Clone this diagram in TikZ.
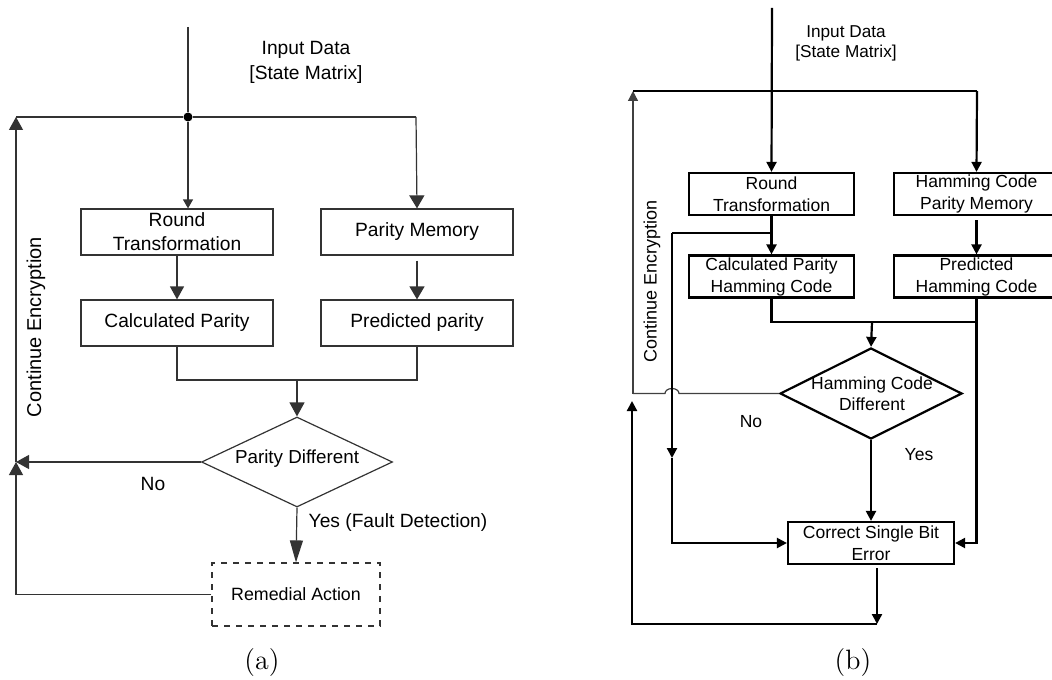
\documentclass[tikz,border=0pt]{standalone}
\usepackage{fontspec}
\newfontfamily\arial{Liberation Sans}
\usetikzlibrary{arrows.meta,shapes.geometric,calc}
\begin{document}
\begin{tikzpicture}[x=0.5pt,y=-0.5pt,
  la/.style={draw=black!80, line width=0.6pt},
  lat/.style={la, -{Triangle[length=6.5pt,width=7pt]}},
  lbox/.style={la, rectangle, inner sep=0pt, minimum width=96pt, minimum height=23pt, align=center, font=\arial\fontsize{9.6}{12}\selectfont},
  ltext/.style={font=\arial\fontsize{9.6}{12.5}\selectfont, align=center, inner sep=0pt},
  rb/.style={draw=black, line width=1.1pt},
  rbt/.style={rb, -{Triangle[length=5pt,width=5pt]}},
  rthin/.style={draw=black!75, line width=0.6pt},
  rbox/.style={rb, rectangle, inner sep=0pt, minimum width=82.5pt, minimum height=21pt, align=center, font=\arial\fontsize{8.75}{11}\selectfont},
  rtext/.style={font=\arial\fontsize{8.75}{10}\selectfont, align=center, inner sep=0pt},
  captxt/.style={font=\fontsize{14}{16}\selectfont, inner sep=0pt}
]
\useasboundingbox (0,0) rectangle (1052,679);

% ================= (a) =================
\node[lbox] (rt) at (177,232) {Round\\Transformation};
\node[lbox] (pm) at (417,232) {Parity Memory};
\node[lbox] (cp) at (177,323) {Calculated Parity};
\node[lbox] (pp) at (417,323) {Predicted parity};
\node[diamond, la, minimum width=95.5pt, minimum height=45pt, inner sep=0pt] (pd) at (297,462) {};
\node[ltext, font=\arial\fontsize{9.4}{12}\selectfont] (pdt) at (297,459) {Parity Different};
\node[la, dashed, rectangle, inner sep=0pt, minimum width=84pt, minimum height=31.5pt, font=\arial\fontsize{8.9}{11}\selectfont] (ra) at (296,594.5) {Remedial Action};

\node[circle, fill=black, inner sep=0pt, minimum size=4.5pt] (dot) at (188,117) {};
\coordinate (in1) at (188,27);
\coordinate (tr) at (416,117);
\coordinate (tl) at (16,117);
\coordinate (ml) at (16,462);
\coordinate (mj) at (297,380);

\node[ltext] (inA) at (306,62) {Input Data\\{}[State Matrix]};
\node[ltext, rotate=90, font=\arial\fontsize{10}{12}\selectfont] (ceA) at (36,327) {Continue Encryption};
\node[ltext] (noA) at (153,484) {No};
\node[ltext] (yesA) at (398,523) {Yes (Fault Detection)};
\node[captxt] (capA) at (262,663) {(a)};

\draw[la] (in1) -- (dot);
\draw[la, -{Triangle[length=4.5pt,width=5pt]}] (dot) -- (dot |- rt.north);
\draw[la] (dot) -- (tr);
\draw[la, -{Triangle[length=6.5pt,width=7.5pt]}] (tr) -- (pm.north);
\draw[la] (tl) -- (dot);
\draw[lat] (ml) -- (tl);
\draw[lat] (ra.west) -| (ml);
\draw[lat] (pd.west) -- (ml);
\draw[lat] (rt.south) -- (cp.north);
\draw[la, -{Triangle[length=6.5pt,width=7.5pt]}] ([yshift=-2.5pt]pm.south) -- (pp.north);
\draw[la] (cp.south) |- (mj) -| (pp.south);
\draw[la, -{Triangle[length=7pt,width=7.5pt]}] (mj) -- (pd.north);
\draw[la, -{Triangle[length=11pt,width=6.5pt]}] (pd.south) -- (ra.north);

% ================= (b) =================
\node[rbox] (rt2) at (771.5,194) {Round\\Transformation};
\node[rbox] (hm2) at (976.5,194) {Hamming Code\\Parity Memory};
\node[rbox] (cp2) at (771.5,276.5) {Calculated Parity\\Hamming Code};
\node[rbox] (ph2) at (976.5,276.5) {Predicted\\Hamming Code};
\node[diamond, rb, minimum width=91pt, minimum height=45.5pt, inner sep=0pt] (hd) at (871,393.5) {};
\node[rtext, font=\arial\fontsize{8.75}{10.5}\selectfont] (hdt) at (872,393.5) {Hamming Code\\Different};
\node[rbox, minimum width=83pt] (cs) at (871,543) {Correct Single Bit\\Error};

\coordinate (bin) at (772,8);
\coordinate (btl) at (633,91);
\coordinate (btr) at (977,91);
\coordinate (bml) at (633,393.5);
\coordinate (hopR) at (679,393.5);
\coordinate (bb1) at (772,233);
\coordinate (bb2) at (672,233);
\coordinate (bbm) at (672,458);
\coordinate (bmj) at (872,322);
\coordinate (bo) at (877,624);
\coordinate (bbl) at (632,624);
\coordinate (bup) at (632,401);

\node[rtext, font=\arial\fontsize{8.6}{10}\selectfont] (inB) at (846,43) {Input Data\\{}[State Matrix]};
\node[rtext, rotate=90, font=\arial\fontsize{9}{11}\selectfont] (ceB) at (652,281) {Continue Encryption};
\node[rtext] (noB) at (751,422) {No};
\node[rtext] (yesB) at (919,455) {Yes};
\node[captxt] (capB) at (853,663) {(b)};

\draw[rbt] (bin) -- (rt2.north);
\draw[rthin] (hd.west) -- (hopR) arc[start angle=0, end angle=180, x radius=3.5pt, y radius=2.5pt] -- (bml);
\draw[rthin, -{Triangle[length=5pt,width=5pt]}] (bml) -- (btl);
\draw[rb] (btl) -- (btr);
\draw[rbt] (btr) -- (hm2.north);
\draw[rbt] (rt2.south) -- (cp2.north);
\draw[rb] (bb1) -- (bb2);
\draw[rbt] (bb2) -- (bbm);
\draw[rbt] (bbm) |- (cs.west);
\draw[rbt] ([yshift=-2pt]hm2.south) -- (ph2.north);
\draw[rb] (cp2.south) |- (bmj) -- (bmj -| ph2.south);
\draw[rbt] (ph2.south) |- (cs.east);
\draw[rbt] (bmj) -- (hd.north);
\draw[rbt] (hd.south) -- (cs.north);
\draw[rbt] ([xshift=3pt,yshift=-1.5pt]cs.south) -- (bo);
\draw[rbt] (bo) -- (bbl) -- (bup);
\end{tikzpicture}
\end{document}
